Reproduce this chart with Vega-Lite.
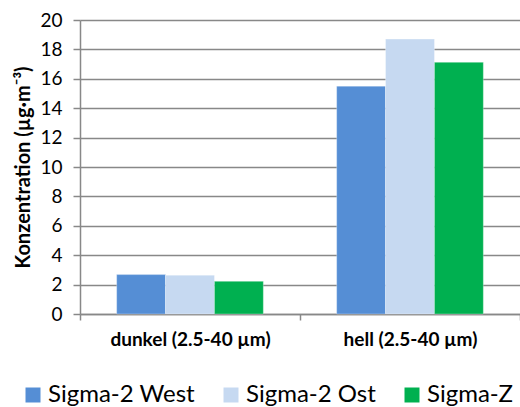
{
  "$schema": "https://vega.github.io/schema/vega-lite/v6.json",
  "width": 440,
  "height": 294,
  "autosize": "none",
  "padding": {"left": 80, "top": 20, "right": 0, "bottom": 93},
  "background": "white",
  "config": {
    "font": "Lato",
    "view": {"stroke": null}
  },
  "data": {
    "values": [
      {"cat": "dunkel (2.5-40 µm)", "series": "Sigma-2 West", "value": 2.68},
      {"cat": "dunkel (2.5-40 µm)", "series": "Sigma-2 Ost", "value": 2.64},
      {"cat": "dunkel (2.5-40 µm)", "series": "Sigma-Z", "value": 2.22},
      {"cat": "hell (2.5-40 µm)", "series": "Sigma-2 West", "value": 15.5},
      {"cat": "hell (2.5-40 µm)", "series": "Sigma-2 Ost", "value": 18.7},
      {"cat": "hell (2.5-40 µm)", "series": "Sigma-Z", "value": 17.12}
    ]
  },
  "mark": {"type": "bar", "stroke": "white", "strokeWidth": 0.5, "strokeOpacity": 0.6},
  "encoding": {
    "x": {
      "field": "cat",
      "type": "nominal",
      "sort": null,
      "scale": {"paddingInner": 0, "paddingOuter": 0},
      "axis": {
        "title": null,
        "labelAngle": 0,
        "labelFont": "Lato",
        "labelFontSize": 19,
        "labelFontWeight": "bold",
        "labelColor": "black",
        "labelPadding": 10,
        "tickBand": "extent",
        "tickSize": 6,
        "tickColor": "#888888",
        "tickWidth": 1.5,
        "domainColor": "#888888",
        "domainWidth": 1.5,
        "grid": false
      }
    },
    "xOffset": {
      "field": "series",
      "type": "nominal",
      "sort": ["Sigma-2 West", "Sigma-2 Ost", "Sigma-Z"],
      "scale": {"paddingInner": 0, "paddingOuter": 0.75}
    },
    "y": {
      "field": "value",
      "type": "quantitative",
      "scale": {"domain": [0, 20], "nice": false},
      "axis": {
        "title": "Konzentration (µg·m⁻³)",
        "titleFont": "Lato",
        "titleFontSize": 20,
        "titleFontWeight": "bold",
        "titleColor": "black",
        "titlePadding": 6,
        "values": [0, 2, 4, 6, 8, 10, 12, 14, 16, 18, 20],
        "labelFont": "Lato",
        "labelFontSize": 19,
        "labelColor": "black",
        "labelPadding": 11,
        "tickSize": 7,
        "tickColor": "#888888",
        "tickWidth": 1.5,
        "domainColor": "#888888",
        "domainWidth": 1.5,
        "grid": true,
        "gridColor": "#888888",
        "gridWidth": 1.5
      }
    },
    "color": {
      "field": "series",
      "type": "nominal",
      "sort": ["Sigma-2 West", "Sigma-2 Ost", "Sigma-Z"],
      "scale": {
        "domain": ["Sigma-2 West", "Sigma-2 Ost", "Sigma-Z"],
        "range": ["#558ED5", "#C6D9F1", "#00B050"]
      },
      "legend": {
        "title": null,
        "orient": "none",
        "direction": "horizontal",
        "legendX": -59,
        "legendY": 363,
        "symbolType": "square",
        "symbolSize": 225,
        "symbolStrokeWidth": 0,
        "labelFont": "Lato",
        "labelFontSize": 24,
        "labelColor": "black",
        "columnPadding": 24,
        "labelOffset": 3
      }
    }
  }
}
